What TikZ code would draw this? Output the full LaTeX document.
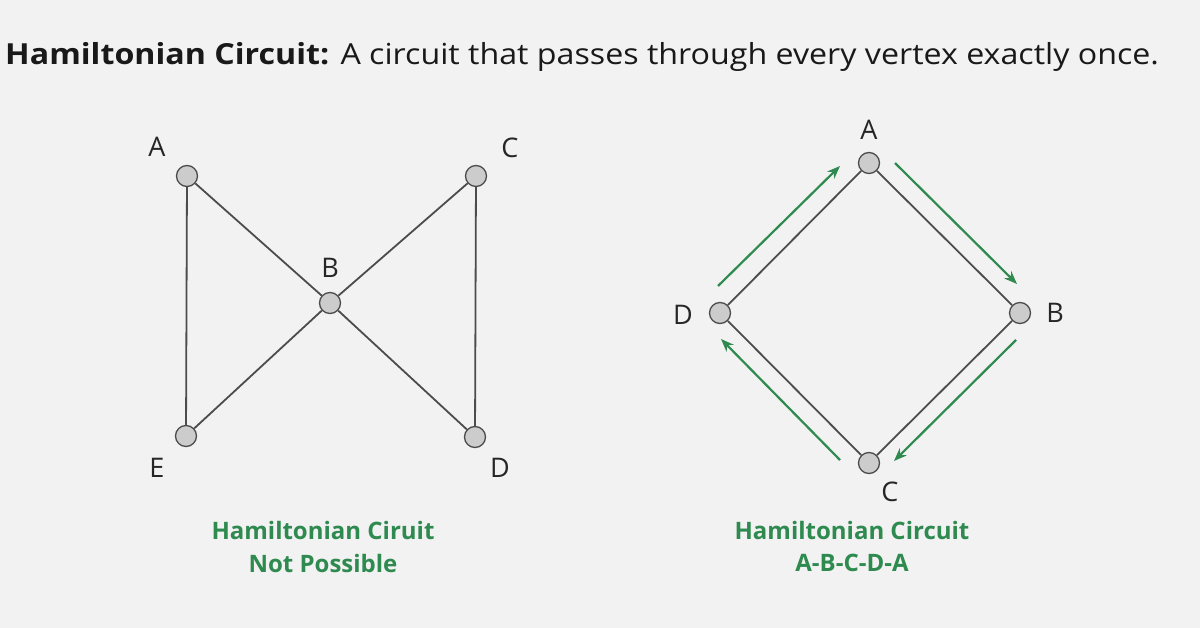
\documentclass[tikz,border=0pt]{standalone}
\usetikzlibrary{arrows.meta}
\usepackage{fontspec}
\setmainfont{Open Sans}
\begin{document}
\begin{tikzpicture}[x=1pt,y=-1pt,
  v/.style={circle,draw=black!70,fill=black!20,line width=1.3pt,minimum size=21pt,inner sep=0},
  e/.style={draw=black!70,line width=1.8pt},
  lab/.style={font=\fontsize{27}{30}\selectfont,text=black!85},
  gt/.style={font=\fontsize{24}{28}\selectfont\bfseries,text=gr},
  ga/.style={draw=gr,line width=2.2pt,-{Stealth[length=13pt,width=10pt]}}]
\definecolor{gr}{HTML}{2F8A50}
\useasboundingbox (0,0) rectangle (1200,628);
\fill[black!5] (0,0) rectangle (1200,628);
\node[anchor=west,inner sep=0,font=\fontsize{29}{32}\selectfont,text=black!90,xscale=1.11] (t) at (5,57) {\textbf{Hamiltonian Circuit:} A circuit that passes through every vertex exactly once.};
% left
\node[v] (A) at (187,176) {};
\node[v] (C) at (476,176) {};
\node[v] (B) at (330,303) {};
\node[v] (E) at (186,436) {};
\node[v] (D) at (475,437) {};
\draw[e] (A)--(E) (A)--(B) (B)--(C) (C)--(D) (B)--(E) (B)--(D);
\node[lab] (la) at (157,147) {A};
\node[lab] (lc) at (510,148) {C};
\node[lab] (lb) at (330,268) {B};
\node[lab] (le) at (157,468) {E};
\node[lab] (ld) at (500,468) {D};
\node[gt] (t1) at (323,530) {Hamiltonian Ciruit};
\node[gt] (t2) at (323,563) {Not Possible};
% right
\node[v] (RA) at (869,163) {};
\node[v] (RB) at (1020,313) {};
\node[v] (RC) at (869,463) {};
\node[v] (RD) at (720,313) {};
\draw[e] (RA)--(RB)--(RC)--(RD)--(RA);
\node[lab] (rla) at (869,130) {A};
\node[lab] (rlb) at (1055,313) {B};
\node[lab] (rld) at (683,315) {D};
\node[lab] (rlc) at (890,492) {C};
\coordinate (p1) at (718,286); \coordinate (p2) at (840,166);
\coordinate (p3) at (895,163); \coordinate (p4) at (1017,284);
\coordinate (p5) at (1016,340); \coordinate (p6) at (894,461);
\coordinate (p7) at (840,460); \coordinate (p8) at (721,339);
\draw[ga] (p1)--(p2); \draw[ga] (p3)--(p4);
\draw[ga] (p5)--(p6); \draw[ga] (p7)--(p8);
\node[gt] (t3) at (852,530) {Hamiltonian Circuit};
\node[gt] (t4) at (852,563) {A-B-C-D-A};
\end{tikzpicture}
\end{document}
